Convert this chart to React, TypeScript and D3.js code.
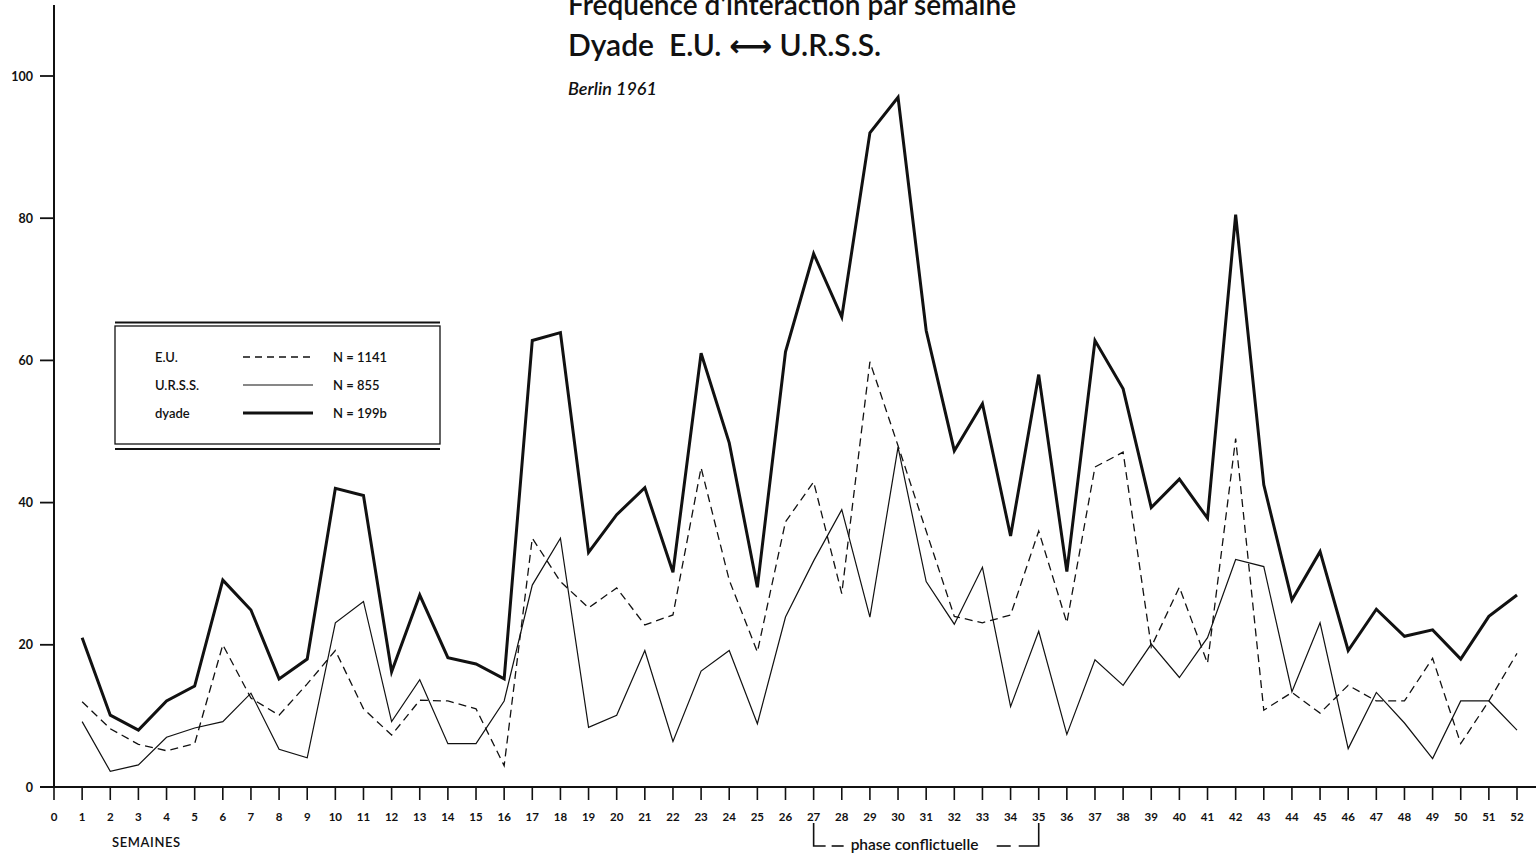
import React from "react";
import * as d3 from "d3";

// semaines 1..52
const weeks = d3.range(1, 53);

const euValues = [
  12, 8.2, 6, 5.1, 6.1, 20, 12.5, 10.1, 14.5, 19.2, 11, 7.3, 12.2, 12.1, 11,
  3, 35, 28.9, 25.2, 28, 22.8, 24.2, 44.9, 29.1, 19, 37.3, 42.9, 27.2, 59.8,
  48, 36, 24, 23.1, 24.2, 36, 23.1, 45, 47.1, 19.7, 28.1, 17.4, 49, 10.8,
  13.3, 10.4, 14.3, 12.1, 12.1, 18.1, 6.1, 12.1, 18.8,
];

const ursValues = [
  9.2, 2.2, 3.1, 7, 8.3, 9.2, 13.2, 5.3, 4.1, 23.1, 26.1, 9.2, 15.1, 6.1, 6.1,
  12.1, 28.4, 35, 8.4, 10.1, 19.2, 6.4, 16.3, 19.2, 8.9, 23.9, 31.8, 39, 23.9,
  47.8, 28.9, 22.9, 30.9, 11.3, 21.9, 7.4, 17.9, 14.3, 20.1, 15.4, 21, 32,
  31, 13.4, 23.1, 5.4, 13.3, 9, 4, 12.1, 12.1, 8,
];

const dyadeValues = [
  21, 10.1, 8, 12.1, 14.2, 29.1, 24.9, 15.2, 18, 42, 41, 16.2, 27, 18.2, 17.3,
  15.2, 62.8, 63.9, 33, 38.3, 42.1, 30.2, 61, 48.4, 28.1, 61.2, 75, 66.1, 92,
  97, 64.2, 47.3, 53.9, 35.3, 58, 30.3, 62.8, 56, 39.3, 43.3, 37.8, 80.5,
  42.5, 26.3, 33.1, 19.2, 25, 21.2, 22.1, 18, 24, 27,
];

const yTicks = [0, 20, 40, 60, 80, 100];
const xTicks = d3.range(0, 53);

const legendRows = [
  { label: "E.U.", n: "N = 1141", dash: "7,5", width: 1.3 },
  { label: "U.R.S.S.", n: "N = 855", dash: null, width: 1.2 },
  { label: "dyade", n: "N = 199b", dash: null, width: 3 },
];

const font = "Lato, 'DejaVu Sans', sans-serif";

const App = () => {
  const x = d3.scaleLinear().domain([0, 52]).range([54, 1517]);
  const y = d3.scaleLinear().domain([0, 100]).range([787, 76]);

  const line = d3
    .line<number>()
    .x((d, i) => x(weeks[i]))
    .y((d) => y(d));

  const phaseStart = x(27);
  const phaseEnd = x(35);

  return (
    <svg
      width={1536}
      height={862}
      style={{ position: "absolute", left: 0, top: 0, background: "#fff" }}
      fontFamily={font}
    >
      {/* titre */}
      <text x={568} y={15} fontSize={28} fontWeight={600} fill="#111">
        Fréquence d'interaction par semaine
      </text>
      <text x={568} y={56} fontSize={30} fontWeight={600} fill="#111" xmlSpace="preserve">
        {"Dyade  E.U. \u27F7 U.R.S.S."}
      </text>
      <text x={568} y={95} fontSize={18} fontWeight={600} fontStyle="italic" fill="#111">
        Berlin 1961
      </text>

      {/* axes */}
      <line x1={54} x2={54} y1={5} y2={788} stroke="#111" strokeWidth={2} />
      <line x1={40} x2={1536} y1={787} y2={787} stroke="#111" strokeWidth={2} />

      {yTicks.map((t) => (
        <g key={t}>
          <line x1={40} x2={54} y1={y(t)} y2={y(t)} stroke="#111" strokeWidth={1.8} />
          <text
            x={33}
            y={y(t)}
            textAnchor="end"
            dominantBaseline="central"
            fontSize={12.5}
            fontWeight="bold"
            fill="#111"
          >
            {t}
          </text>
        </g>
      ))}

      {xTicks.map((t) => (
        <g key={t}>
          <line x1={x(t)} x2={x(t)} y1={787} y2={800} stroke="#111" strokeWidth={1.6} />
          <text
            x={x(t)}
            y={816}
            textAnchor="middle"
            dominantBaseline="central"
            fontSize={11.5}
            fontWeight="bold"
            fill="#111"
          >
            {t}
          </text>
        </g>
      ))}

      <text x={112} y={847} fontSize={13} fontWeight={600} fill="#111" letterSpacing={0.6}>
        SEMAINES
      </text>

      {/* phase conflictuelle */}
      <g stroke="#111" strokeWidth={1.6} fill="none">
        <path d={`M${phaseStart},823 V846 H${phaseStart + 12}`} />
        <line x1={phaseStart + 18} x2={phaseStart + 30} y1={846} y2={846} />
        <line x1={phaseEnd - 42} x2={phaseEnd - 28} y1={846} y2={846} />
        <path d={`M${phaseEnd - 20},846 H${phaseEnd} V823`} />
      </g>
      <text x={phaseStart + 37} y={850} fontSize={15.5} fontWeight={600} fill="#111">
        phase conflictuelle
      </text>

      {/* séries */}
      <path
        d={line(euValues) as string}
        fill="none"
        stroke="#111"
        strokeWidth={1.3}
        strokeDasharray="8,5"
      />
      <path d={line(ursValues) as string} fill="none" stroke="#111" strokeWidth={1.2} />
      <path
        d={line(dyadeValues) as string}
        fill="none"
        stroke="#111"
        strokeWidth={3}
        strokeLinejoin="miter"
      />

      {/* légende */}
      <g>
        <line x1={115} x2={440} y1={322.5} y2={322.5} stroke="#111" strokeWidth={2} />
        <rect x={115} y={326} width={325} height={118} fill="#fff" stroke="#111" strokeWidth={1.3} />
        <line x1={115} x2={440} y1={449} y2={449} stroke="#111" strokeWidth={2} />
        {legendRows.map((r, i) => {
          const ry = 357 + i * 28;
          return (
            <g key={r.label}>
              <text x={155} y={ry} dominantBaseline="central" fontSize={13} fontWeight={600} fill="#111">
                {r.label}
              </text>
              <line
                x1={243}
                x2={313}
                y1={ry}
                y2={ry}
                stroke="#111"
                strokeWidth={r.width}
                strokeDasharray={r.dash ?? undefined}
              />
              <text x={333} y={ry} dominantBaseline="central" fontSize={13} fontWeight={600} fill="#111">
                {r.n}
              </text>
            </g>
          );
        })}
      </g>
    </svg>
  );
};

export default App;
